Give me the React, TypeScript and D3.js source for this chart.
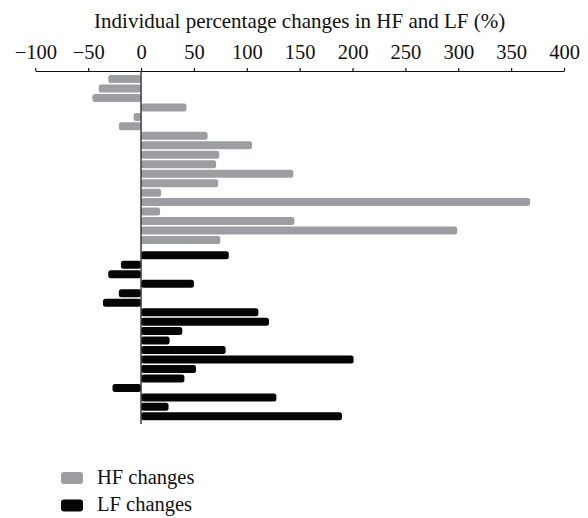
import * as d3 from "d3";
import { useEffect, useRef } from "react";

// percentage change per subject, top to bottom
const hfChanges = [
  -31, -40, -46, 43, -7, -21, 63, 105, 74, 71, 144, 73, 19, 368, 18, 145, 299, 75,
];
const lfChanges = [
  83, -19, -31, 50, -21, -36, 111, 121, 39, 27, 80, 201, 52, 41, -27, 128, 26, 190,
];
const xTicks = [-100, -50, 0, 50, 100, 150, 200, 250, 300, 350, 400];
const legendLabels = ["HF changes", "LF changes"];
const title = "Individual percentage changes in HF and LF (%)";

export default function App() {
  const ref = useRef<SVGSVGElement | null>(null);

  useEffect(() => {
    const el = ref.current;
    if (!el) return;
    const svg = d3.select(el);
    svg.selectAll("*").remove();

    const W = 588;
    const H = 518;
    const font = "'Liberation Serif', 'DejaVu Serif', serif";
    const gray = "#9d9ea2";
    const black = "#050505";

    const x = d3.scaleLinear().domain([-100, 400]).range([35.3, 564]);
    // gap between the two groups is a bit larger than one row
    const groupGap = 0.62;
    const slot = d3
      .scaleLinear()
      .domain([0, hfChanges.length - 1])
      .range([79, 240]);
    const barH = 8;

    const root = svg.attr("viewBox", `0 0 ${W} ${H}`).attr("width", W).attr("height", H);

    root
      .append("text")
      .attr("x", (x(-100) + x(400)) / 2)
      .attr("y", 28)
      .attr("text-anchor", "middle")
      .attr("font-family", font)
      .attr("font-size", 21)
      .attr("fill", "#111")
      .text(title);

    const axisY = 71;
    const ga = root
      .append("g")
      .attr("transform", `translate(0,${axisY})`)
      .call(
        d3
          .axisTop(x)
          .tickValues(xTicks)
          .tickSize(3)
          .tickPadding(10)
          .tickSizeOuter(0)
          .tickFormat((v) => d3.format("d")(v as number).replace("-", "−")),
      );
    ga.select(".domain").attr("stroke", "#111").attr("stroke-width", 1.2);
    ga.selectAll(".tick line").attr("stroke", "#111").attr("stroke-width", 1.2);
    ga.selectAll(".tick text")
      .attr("fill", "#111")
      .attr("font-family", font)
      .attr("font-size", 20.5)
      .attr("dy", 0)
      .attr("y", -12.5);

    const drawBars = (vals: number[], offset: number, fill: string, cls: string) => {
      root
        .append("g")
        .selectAll(`rect.${cls}`)
        .data(vals)
        .join("rect")
        .attr("class", cls)
        .attr("x", (d) => x(Math.min(0, d)))
        .attr("width", (d) => Math.abs(x(d) - x(0)))
        .attr("y", (_, i) => slot(i + offset) - barH / 2)
        .attr("height", barH)
        .attr("rx", 2.5)
        .attr("fill", fill);
    };
    drawBars(hfChanges, 0, gray, "hf");
    drawBars(lfChanges, hfChanges.length + groupGap, black, "lf");

    // zero line
    root
      .append("line")
      .attr("x1", x(0))
      .attr("x2", x(0))
      .attr("y1", axisY)
      .attr("y2", 424)
      .attr("stroke", "#3a3a3a")
      .attr("stroke-width", 1.5);

    const legend = root.append("g").attr("transform", "translate(61,472)");
    legendLabels.forEach((label, i) => {
      const row = legend.append("g").attr("transform", `translate(0,${i * 27.5})`);
      row
        .append("rect")
        .attr("width", 22)
        .attr("height", 12)
        .attr("rx", 3)
        .attr("fill", i === 0 ? gray : black);
      row
        .append("text")
        .attr("x", 36)
        .attr("y", 11.5)
        .attr("font-family", font)
        .attr("font-size", 20.5)
        .attr("fill", "#111")
        .text(label);
    });
  }, []);

  return <svg ref={ref} style={{ position: "absolute", left: 0, top: 0 }} />;
}
